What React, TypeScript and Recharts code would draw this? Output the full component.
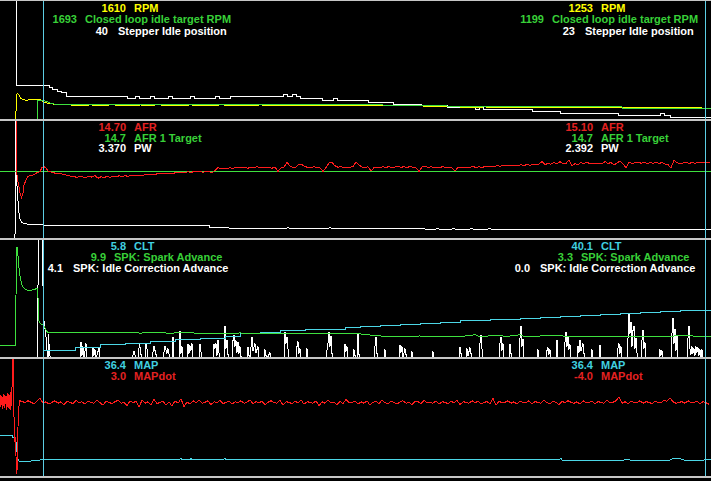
import React from 'react';
import { LineChart, Line, XAxis, YAxis, ReferenceLine } from 'recharts';

type Pair = [number, number];

// ---------- time axis / cursors ----------
const TIME_DOMAIN: [number, number] = [0, 711];
const CURSOR_TIMES = [43.5, 705.5];

// ---------- Panel 1 : RPM / target / stepper ----------
const rpmSamples: Pair[] = [
  [0, 0], [15.5, 0], [16.5, 2090], [18, 2095], [19, 2020], [21, 1820], [23, 1745], [26, 1730], [30, 1735], [34, 1740],
  [36, 1760], [37, 1795], [39, 1780], [41, 1720], [44, 1610], [47, 1560], [50, 1520], [55, 1480], [60, 1450], [70, 1440],
  [80, 1400], [90, 1440], [100, 1405], [110, 1438], [120, 1432], [130, 1400], [140, 1436], [150, 1428], [160, 1440], [170, 1402],
  [180, 1425], [190, 1436], [200, 1430], [210, 1404], [220, 1438], [230, 1430], [245, 1426], [260, 1436], [275, 1428], [290, 1432],
  [305, 1424], [320, 1434], [335, 1426], [350, 1430], [365, 1420], [380, 1414], [395, 1400], [410, 1392], [425, 1372], [440, 1340],
  [455, 1318], [470, 1310], [485, 1316], [500, 1306], [515, 1312], [530, 1300], [545, 1308], [560, 1298], [575, 1304], [590, 1296],
  [605, 1300], [620, 1292], [635, 1270], [650, 1262], [665, 1268], [680, 1258], [695, 1262], [705, 1253], [711, 1255],
];
const targetRpmSamples: Pair[] = [
  [0, 0], [37.5, 0], [38, 1720], [41, 1705], [44, 1693], [47, 1640], [50, 1560], [55, 1480], [60, 1445], [70, 1440],
  [100, 1440], [150, 1442], [200, 1440], [250, 1438], [300, 1438], [383, 1436], [384, 1400], [400, 1396], [417, 1380], [447, 1375],
  [448, 1330], [470, 1325], [540, 1322], [622, 1320], [623, 1230], [660, 1215], [705, 1199], [711, 1199],
];
const stepperSamples: Pair[] = [
  [0, 95], [16, 40], [49, 39], [52, 38], [57, 37], [61, 36], [66, 34], [127, 33], [135, 34], [139, 33],
  [150, 34], [154, 33], [168, 34], [172, 33], [190, 34], [194, 33], [215, 34], [219, 33], [230, 34], [283, 35],
  [287, 34], [292, 35], [296, 34], [300, 33], [322, 32], [333, 33], [337, 32], [368, 31], [393, 30], [421, 29],
  [447, 28], [475, 27], [479, 28], [483, 27], [532, 26], [560, 25], [618, 24], [660, 25], [664, 24], [670, 23], [711, 23],
];

// ---------- Panel 2 : AFR / target / PW ----------
const afrStartSamples: Pair[] = [
  [0, 20], [16, 20], [16.5, 14.65], [17, 14.5], [18, 14.17], [19, 13.92], [20, 13.6], [21.5, 13.37], [23, 13.6], [24, 14.0],
  [26, 14.25], [28, 14.42], [30, 14.47], [33, 14.5], [36, 14.59], [40, 14.67], [42, 14.87], [44, 14.92], [46, 14.84], [48, 14.7],
];
const AFR_LOG_START = 50;
const AFR_LOG_STEP = 3;
const afrLogValues = [
  14.66, 14.62, 14.58, 14.56, 14.55, 14.52, 14.47, 14.44, 14.42, 14.38,
  14.45, 14.40, 14.37, 14.44, 14.39, 14.47, 14.34, 14.41, 14.36, 14.44,
  14.37, 14.45, 14.40, 14.46, 14.41, 14.47, 14.43, 14.48, 14.50, 14.47,
  14.50, 14.48, 14.53, 14.51, 14.55, 14.53, 14.57, 14.55, 14.59, 14.56,
  14.60, 14.58, 14.62, 14.60, 14.64, 14.61, 14.66, 14.63, 14.67, 14.65,
  14.67, 14.64, 14.68, 14.66, 14.63, 14.72, 14.88, 14.80, 14.84, 14.82,
  14.86, 14.83, 14.88, 14.85, 14.90, 14.86, 14.84, 14.89, 14.86, 14.91,
  14.87, 14.85, 14.90, 14.86, 14.84, 14.89, 14.68, 14.85, 14.88, 15.15,
  14.95, 14.86, 14.90, 15.05, 15.02, 14.92, 14.88, 14.86, 14.91, 14.87,
  14.85, 14.68, 14.88, 15.10, 15.12, 14.96, 14.89, 14.92, 14.86, 14.90,
  14.88, 14.93, 15.15, 15.00, 14.90, 14.86, 14.91, 14.70, 14.87, 14.90,
  14.86, 14.91, 14.88, 14.92, 14.86, 14.90, 14.95, 14.88, 14.92, 14.87,
  14.93, 14.89, 14.85, 14.68, 14.90, 14.94, 14.88, 14.91, 14.86, 14.90,
  14.88, 14.92, 14.87, 14.90, 14.86, 14.70, 14.89, 14.87, 14.90, 14.86,
  14.89, 14.92, 14.88, 14.91, 14.87, 14.93, 14.90, 14.95, 14.92, 14.96,
  14.94, 14.98, 14.95, 14.99, 14.96, 15.00, 14.97, 15.01, 14.98, 15.02,
  14.99, 15.03, 15.00, 15.05, 15.17, 15.02, 15.08, 15.04, 15.12, 15.06,
  15.17, 15.05, 15.08, 15.25, 14.98, 15.06, 15.03, 15.12, 15.07, 15.15,
  15.05, 15.10, 15.06, 15.09, 15.05, 15.17, 15.08, 15.12, 15.00, 15.10,
  15.20, 15.05, 14.86, 15.14, 15.08, 15.11, 15.15, 15.09, 15.13, 15.08,
  15.11, 15.09, 15.13, 15.08, 15.12, 15.05, 15.02, 14.85, 15.25, 15.12,
  15.06, 15.10, 15.13, 15.08, 15.12, 15.09, 15.11, 15.10, 15.13, 15.10, 15.11,
];
const afrTargetSamples: Pair[] = [[0, 14.7], [711, 14.7]];
const pwSamples: Pair[] = [
  [0, 0], [15, 0], [15.5, 35], [16.5, 35], [17, 13], [18, 9.3], [19, 6.4], [20, 4.9], [22, 4.0], [25, 3.7],
  [30, 3.45], [44, 3.37], [120, 3.36], [209, 3.36], [210, 2.76], [228, 2.76], [229, 2.62], [287, 2.62], [288, 2.95], [289, 2.62],
  [329, 2.62], [330, 2.8], [331, 2.62], [424, 2.62], [425, 2.39], [436, 2.39], [437, 2.62], [439, 2.39], [452, 2.39], [453, 2.62],
  [455, 2.39], [470, 2.39], [471, 2.62], [473, 2.39], [488, 2.39], [489, 2.62], [491, 2.39], [711, 2.39],
];

// ---------- Panel 3 : CLT / spark / idle correction ----------
const cltSamples: Pair[] = [
  [44, 5.6], [50, 5.9], [75, 8], [100, 10.4], [125, 12], [150, 13.2], [175, 14.8], [200, 16.2], [225, 18], [240, 19.9],
  [260, 21], [280, 22.7], [305, 23.6], [330, 24.2], [345, 25.5], [360, 26.2], [380, 26.9], [400, 27.7], [420, 29.1], [440, 30],
  [460, 31.4], [490, 32.4], [520, 33.5], [540, 34.2], [560, 34.8], [580, 35.9], [600, 36.9], [620, 37.6], [640, 38.6], [660, 39.2],
  [680, 39.8], [705, 40.4], [711, 40.4],
];
const sparkSamples: Pair[] = [
  [0, -3], [15.5, -3], [16.5, 58], [17.5, 58], [18.5, 48], [20, 40], [22, 34.5], [24, 32.5], [27, 31.4], [32, 31.4],
  [35, 31.8], [37, 32.7], [37.8, 32.5], [38.5, 12.9], [40, 11], [44, 9.2], [47, 5.6], [49, 5.0], [60, 5.0], [70, 5.3],
  [80, 4.9], [90, 5.0], [100, 5.1], [110, 4.9], [120, 5.0], [130, 5.2], [140, 4.8], [150, 5.0], [160, 4.9], [170, 4.8],
  [180, 4.9], [190, 5.0], [200, 4.6], [210, 4.8], [220, 4.6], [230, 4.5], [240, 4.9], [250, 4.4], [260, 4.6], [270, 4.5],
  [280, 4.6], [290, 4.4], [300, 4.5], [310, 4.8], [320, 4.4], [330, 4.5], [340, 4.4], [350, 4.5], [360, 4.3], [370, 3.6],
  [380, 3.0], [400, 2.8], [420, 3.0], [440, 2.6], [460, 2.6], [475, 3.8], [480, 2.6], [500, 3.6], [505, 2.6], [520, 3.8],
  [525, 2.6], [560, 3.5], [565, 2.5], [600, 2.6], [640, 2.4], [660, 2.6], [690, 3.4], [695, 2.6], [705, 2.5], [711, 2.6],
];
const idleSamples: Pair[] = [
  [0, 0], [37.5, 0], [38.5, 14], [42, 14], [43.5, 4.1], [45, 3.0], [46, 2.2], [47, 0.8], [48, 0], [48.5, 2.5], [49.5, 0.5], [50.5, 0],
  [80, 0], [81, 1.7], [82, 0.3], [83, 1.2], [84, 0], [86, 1.5], [87, 0],
  [92, 0], [93, 1.2], [94, 0.3], [95, 0.9], [96, 0], [98, 0.7], [99, 1.1], [100, 0],
  [132, 0], [134, 0.7], [136, 0], [138, 0], [139.5, 1.5], [141, 0.4], [142, 0],
  [145, 0], [146, 1.5], [147, 1.0], [148, 0], [152, 0], [154, 1.2], [156, 0.4], [157, 0],
  [163, 0], [165, 1.2], [167, 0.5], [168, 1.0], [170, 0], [172, 0], [173, 2.2], [174, 0],
  [179, 0], [180, 2.8], [181, 0.5], [182, 1.2], [183, 0],
  [187, 0], [188, 1.5], [189, 0.5], [190, 1.3], [191, 0.8], [192, 1.5], [193, 0],
  [199, 0], [200, 1.5], [201, 0.7], [202, 0],
  [213, 0], [214, 1.5], [215, 1.0], [216, 1.5], [217, 0.3], [218, 1.9], [219, 0.6], [220, 0],
  [224, 0], [225, 3.3], [226, 1.0], [227, 1.9], [228, 0.4], [229, 0],
  [232, 0], [233, 1.8], [234, 2.4], [235, 1.2], [236, 1.8], [237, 0.6], [238, 1.7], [239, 0.5], [240, 1.2], [241, 0.2], [242, 0],
  [247, 0], [248, 1.2], [249, 0.3], [250, 0], [252, 2.2], [253, 0.8], [255, 1.5], [256, 0.6], [258, 1.2], [259, 0],
  [264, 0], [265, 0.9], [266, 0.3], [267, 0], [270, 0.6], [271, 0],
  [284, 0], [285, 2.7], [286, 1.5], [287, 2.2], [288, 1.0], [289, 0],
  [296, 0], [297, 1.2], [298, 1.7], [299, 0.5], [300, 1.0], [301, 0], [306, 0], [307, 1.0], [308, 0],
  [326, 0], [327, 0.8], [328, 1.5], [329, 2.7], [330, 1.2], [331, 2.3], [332, 0.5], [333, 0],
  [344, 0], [345, 1.5], [346, 0.7], [347, 1.2], [348, 0],
  [353, 0], [354, 0.9], [355, 0.3], [356, 0], [357, 0], [358, 2.5], [359, 0.4], [360, 0],
  [374, 0], [375, 1.2], [376, 2.2], [377, 0.5], [378, 0], [384, 0], [385, 0.9], [386, 0],
  [399, 0], [400, 1.4], [401, 0.6], [402, 1.2], [403, 0], [405, 1.0], [406, 0.4], [407, 0],
  [411, 0], [412, 0.7], [413, 0], [432, 0], [433, 0.7], [434, 0],
  [459, 0], [460, 1.2], [461, 0.5], [462, 0],
  [466, 0], [467, 1.0], [468, 0.3], [470, 1.1], [471, 0.5], [472, 0],
  [479, 0], [480, 1.5], [481, 2.4], [482, 1.0], [483, 0],
  [499, 0], [500, 1.5], [501, 2.2], [502, 0.8], [503, 1.5], [504, 0],
  [509, 0], [510, 1.5], [511, 0.5], [512, 0],
  [519, 0], [520, 2.0], [521, 3.3], [522, 1.2], [523, 2.0], [524, 0],
  [537, 0], [538, 0.9], [539, 0],
  [546, 0], [547, 0.8], [548, 1.1], [549, 0.4], [550, 0.9], [551, 0],
  [556, 0], [557, 1.9], [558, 0],
  [564, 0], [565, 1.6], [566, 2.7], [567, 1.2], [568, 2.2], [569, 0.9], [570, 1.4], [571, 0],
  [577, 0], [578, 1.3], [579, 0.6], [580, 1.9], [581, 0.8], [583, 1.5], [584, 0.5], [585, 0],
  [591, 0], [592, 0.9], [593, 0], [599, 0], [600, 1.4], [601, 0],
  [617, 0], [618, 1.0], [619, 1.5], [620, 0.5], [621, 1.2], [622, 0],
  [627, 0], [628, 2.0], [629, 4.6], [630, 2.5], [631, 3.7], [632, 1.2], [633, 2.8], [634, 3.3], [635, 1.0], [636, 2.1], [637, 0.6], [638, 0],
  [641, 0], [642, 1.8], [643, 2.9], [644, 1.0], [645, 1.6], [646, 0],
  [659, 0], [660, 0.9], [661, 0.3], [662, 0.8], [663, 0],
  [671, 0], [672, 2.5], [673, 4.1], [674, 1.5], [675, 3.0], [676, 0.8], [677, 2.3], [678, 0],
  [687, 0], [688, 2.0], [689, 3.3], [690, 1.0], [691, 0.4], [692, 1.2], [693, 0.5], [694, 1.0], [695, 0.3], [696, 1.2],
  [697, 0.6], [698, 1.1], [699, 0.3], [700, 0.9], [701, 0], [702, 0.9], [703, 0], [711, 0],
];

// ---------- Panel 4 : MAP / MAPdot ----------
const mapSamples: Pair[] = [
  [0, 100], [12.5, 100], [13, 93.5], [15.5, 93.5], [16.5, 70], [17.5, 40], [19, 32.1], [30, 32.1], [38, 32.5], [40, 34.7],
  [43, 36.6], [180, 36.6], [181, 39], [182, 36.6], [190, 36.6], [191, 38.5], [192, 36.6], [224, 36.6], [225, 39], [226, 36.6],
  [300, 36.6], [301, 35.5], [302, 36.6], [560, 36.6], [561, 39], [562, 34.7], [575, 34.7], [576, 32.5], [577, 34.7], [624, 34.7],
  [626, 37.3], [630, 34.7], [670, 34.7], [672, 37.8], [682, 37.3], [684, 34.7], [704, 34.7], [705, 36.4], [711, 36.4],
];
const mapdotStartSamples: Pair[] = [
  [0, 8], [0.5, -10], [1, 14], [1.5, -6], [2, 12], [2.5, -14], [3, 5], [3.5, -8], [4, 16], [4.5, -12],
  [5, 10], [5.5, -4], [6, 13], [6.5, -15], [7, 6], [7.5, -9], [8, 18], [8.5, -11], [9, 7], [9.5, -13],
  [10, 15], [10.5, -16], [11, 20], [11.5, -8], [12, 30], [12.5, 60], [13, 110], [13.5, 40], [14, -30], [14.5, -60],
  [15, -80], [15.5, -70], [16, -110], [16.5, -145], [17, -140], [17.5, -100], [18, -50], [18.5, -18], [19, -8], [20, 4], [21, 0],
];
const MAPDOT_LOG_START = 22;
const MAPDOT_LOG_STEP = 3;
const mapdotLogValues = [
  2, -1, 3, 0, -3, 2, 9, -2, 1, -4,
  0, 3, -2, 1, -5, 2, 0, -3, 4, -1,
  1, -4, 2, 0, -2, 5, -1, -6, 2, 0,
  -3, 1, 4, -2, 0, -7, 3, -1, 2, -10,
  4, -2, 1, -5, 6, -3, 0, 2, -6, 1,
  -8, 3, -2, 7, -9, 1, -4, 3, -1, 5,
  -2, 0, 3, -5, 1, -1, 4, -3, 0, 2,
  -4, 1, -1, 3, -2, 0, 5, -3, 1, -1,
  2, -5, 0, 3, -1, -2, 4, -6, 1, 0,
  -3, 2, -1, 5, -4, 1, 0, -2, 3, -7,
  1, -2, 4, -1, 0, -5, 2, -3, 6, -1,
  0, 2, -4, 1, -2, 3, -6, 0, 2, -3,
  5, -1, -3, 2, 0, -4, 1, 3, -2, 0,
  -5, 2, 1, -3, 4, -1, 0, -2, 3, -4,
  1, 0, -3, 2, -1, 4, -5, 1, 0, -2,
  3, -1, 2, -4, 0, 1, -3, 8, -6, 2,
  -1, 0, 3, -2, 1, -4, 2, 0, -1, 3,
  -3, 1, 0, -2, 4, -1, -3, 2, 0, -5,
  2, -1, 3, 0, -2, 1, -4, 3, -1, 0,
  2, -3, 1, 0, -2, 4, -1, 0, 3, 11,
  -2, 1, -3, 2, 0, -1, 3, -2, 1, 0,
  -3, 2, 0, -1, 4, 2, 9, 1, -2, 0,
  1, -2, 3, -1, 0, 2, -3, 1, -1, -4,
];

// ---------- label text ----------
const p1Names = ['RPM', 'Closed loop idle target RPM', 'Stepper Idle position'];
const p1Left = ['1610', '1693', '40'];
const p1Right = ['1253', '1199', '23'];
const p2Names = ['AFR', 'AFR 1 Target', 'PW'];
const p2Left = ['14.70', '14.7', '3.370'];
const p2Right = ['15.10', '14.7', '2.392'];
const p3Names = ['CLT', 'SPK: Spark Advance', 'SPK: Idle Correction Advance'];
const p3Left = ['5.8', '9.9', '4.1'];
const p3Right = ['40.1', '3.3', '0.0'];
const p4Names = ['MAP', 'MAPdot'];
const p4Left = ['36.4', '3.0'];
const p4Right = ['36.4', '-4.0'];

// ---------- styling ----------
const YELLOW = '#ffff00';
const GREEN_LINE = '#3ee03e';
const GREEN_TEXT = '#38d038';
const WHITE = '#ffffff';
const RED_LINE = '#ff1c1c';
const RED_TEXT = '#e42222';
const CYAN_LINE = '#4cd6e6';
const CYAN_TEXT = '#40d0e0';
const CURSOR = '#5ccde4';
const SEP = '#c6c6c6';
const W = 711;
const RIGHT_SHIFT = 467;

const rows = (pairs: Pair[]) => pairs.map(([t, v]) => ({ t, v }));
const evenRows = (t0: number, dt: number, vs: number[]) => vs.map((v, i) => ({ t: t0 + i * dt, v }));

type Series = { axis: string; data: { t: number; v: number }[]; color: string; step?: boolean };
type Axis = { id: string; domain: [number, number] };

const panels: { top: number; height: number; axes: Axis[]; series: Series[] }[] = [
  {
    top: 0, height: 119,
    axes: [{ id: 'rpm', domain: [600, 7700] }, { id: 'step', domain: [22, 86] }],
    series: [
      { axis: 'step', data: rows(stepperSamples), color: WHITE, step: true },
      { axis: 'rpm', data: rows(rpmSamples), color: YELLOW },
      { axis: 'rpm', data: rows(targetRpmSamples), color: GREEN_LINE },
    ],
  },
  {
    top: 120, height: 118,
    axes: [{ id: 'afr', domain: [11.35, 17.25] }, { id: 'pw', domain: [0.2, 29.05] }],
    series: [
      { axis: 'pw', data: rows(pwSamples), color: WHITE },
      { axis: 'afr', data: rows(afrTargetSamples), color: GREEN_LINE },
      { axis: 'afr', data: [...rows(afrStartSamples), ...evenRows(AFR_LOG_START, AFR_LOG_STEP, afrLogValues)], color: RED_LINE },
    ],
  },
  {
    top: 239, height: 118,
    axes: [{ id: 'clt', domain: [0, 102] }, { id: 'spk', domain: [-10, 63] }, { id: 'idle', domain: [0.15, 12] }],
    series: [
      { axis: 'idle', data: rows(idleSamples), color: WHITE },
      { axis: 'clt', data: rows(cltSamples), color: CYAN_LINE, step: true },
      { axis: 'spk', data: rows(sparkSamples), color: GREEN_LINE },
    ],
  },
  {
    top: 358, height: 118,
    axes: [{ id: 'map', domain: [-7, 301] }, { id: 'mapdot', domain: [-150, 90] }],
    series: [
      { axis: 'map', data: rows(mapSamples), color: CYAN_LINE },
      { axis: 'mapdot', data: [...rows(mapdotStartSamples), ...evenRows(MAPDOT_LOG_START, MAPDOT_LOG_STEP, mapdotLogValues)], color: RED_LINE },
    ],
  },
];

// label layout: [nameStart (left group), valueEnd (left group), baseline]
const labelGroups = [
  { names: p1Names, left: p1Left, right: p1Right, colors: [YELLOW, GREEN_TEXT, WHITE], layout: [[134, 126, 12], [85, 77, 23], [118, 108, 35]] },
  { names: p2Names, left: p2Left, right: p2Right, colors: [RED_TEXT, GREEN_TEXT, WHITE], layout: [[134, 126, 131], [134, 126, 142], [134, 126, 152]] },
  { names: p3Names, left: p3Left, right: p3Right, colors: [CYAN_TEXT, GREEN_TEXT, WHITE], layout: [[134, 126, 250], [114, 106, 261], [73, 63, 272]] },
  { names: p4Names, left: p4Left, right: p4Right, colors: [CYAN_TEXT, RED_TEXT], layout: [[134, 126, 369], [134, 126, 380]] },
];

const separators = [[0, 1], [119, 2], [238, 2], [357, 2], [476, 2]];

const FONT = { fontFamily: 'Arial, "Liberation Sans", sans-serif', fontWeight: 700, fontSize: 11 } as const;

function Panel({ top, height, axes, series }: { top: number; height: number; axes: Axis[]; series: Series[] }) {
  return (
    <div style={{ position: 'absolute', left: 0, top, width: W, height }}>
      <LineChart width={W} height={height} margin={{ top: 0, right: 0, bottom: 0, left: 0 }}>
        <XAxis dataKey="t" type="number" domain={TIME_DOMAIN} hide allowDataOverflow />
        {axes.map((a) => (
          <YAxis key={a.id} yAxisId={a.id} type="number" domain={a.domain} hide allowDataOverflow />
        ))}
        {series.map((s, i) => (
          <Line
            key={i}
            yAxisId={s.axis}
            data={s.data}
            dataKey="v"
            type={s.step ? 'stepAfter' : 'linear'}
            stroke={s.color}
            strokeWidth={1}
            dot={false}
            activeDot={false}
            isAnimationActive={false}
          />
        ))}
        {CURSOR_TIMES.map((c) => (
          <ReferenceLine key={c} x={c} yAxisId={axes[0].id} stroke={CURSOR} strokeWidth={1} />
        ))}
      </LineChart>
    </div>
  );
}

export default function App() {
  return (
    <div
      style={{
        position: 'fixed', left: 0, top: 0, width: W, height: 481,
        background: '#000', overflow: 'hidden', shapeRendering: 'crispEdges',
      }}
    >
      {panels.map((p, i) => (
        <Panel key={i} {...p} />
      ))}
      <svg width={W} height={481} style={{ position: 'absolute', left: 0, top: 0, pointerEvents: 'none' }}>
        {separators.map(([y, h], i) => (
          <rect key={i} x={0} y={y} width={W} height={h} fill={SEP} />
        ))}
        {labelGroups.map((g, gi) =>
          g.names.map((name, ri) => {
            const [nameX, valX, base] = g.layout[ri];
            return (
              <g key={`${gi}-${ri}`} fill={g.colors[ri]} style={{ ...FONT }}>
                <text x={valX} y={base} textAnchor="end">{g.left[ri]}</text>
                <text x={nameX} y={base}>{name}</text>
                <text x={valX + RIGHT_SHIFT} y={base} textAnchor="end">{g.right[ri]}</text>
                <text x={nameX + RIGHT_SHIFT} y={base}>{name}</text>
              </g>
            );
          })
        )}
      </svg>
    </div>
  );
}
